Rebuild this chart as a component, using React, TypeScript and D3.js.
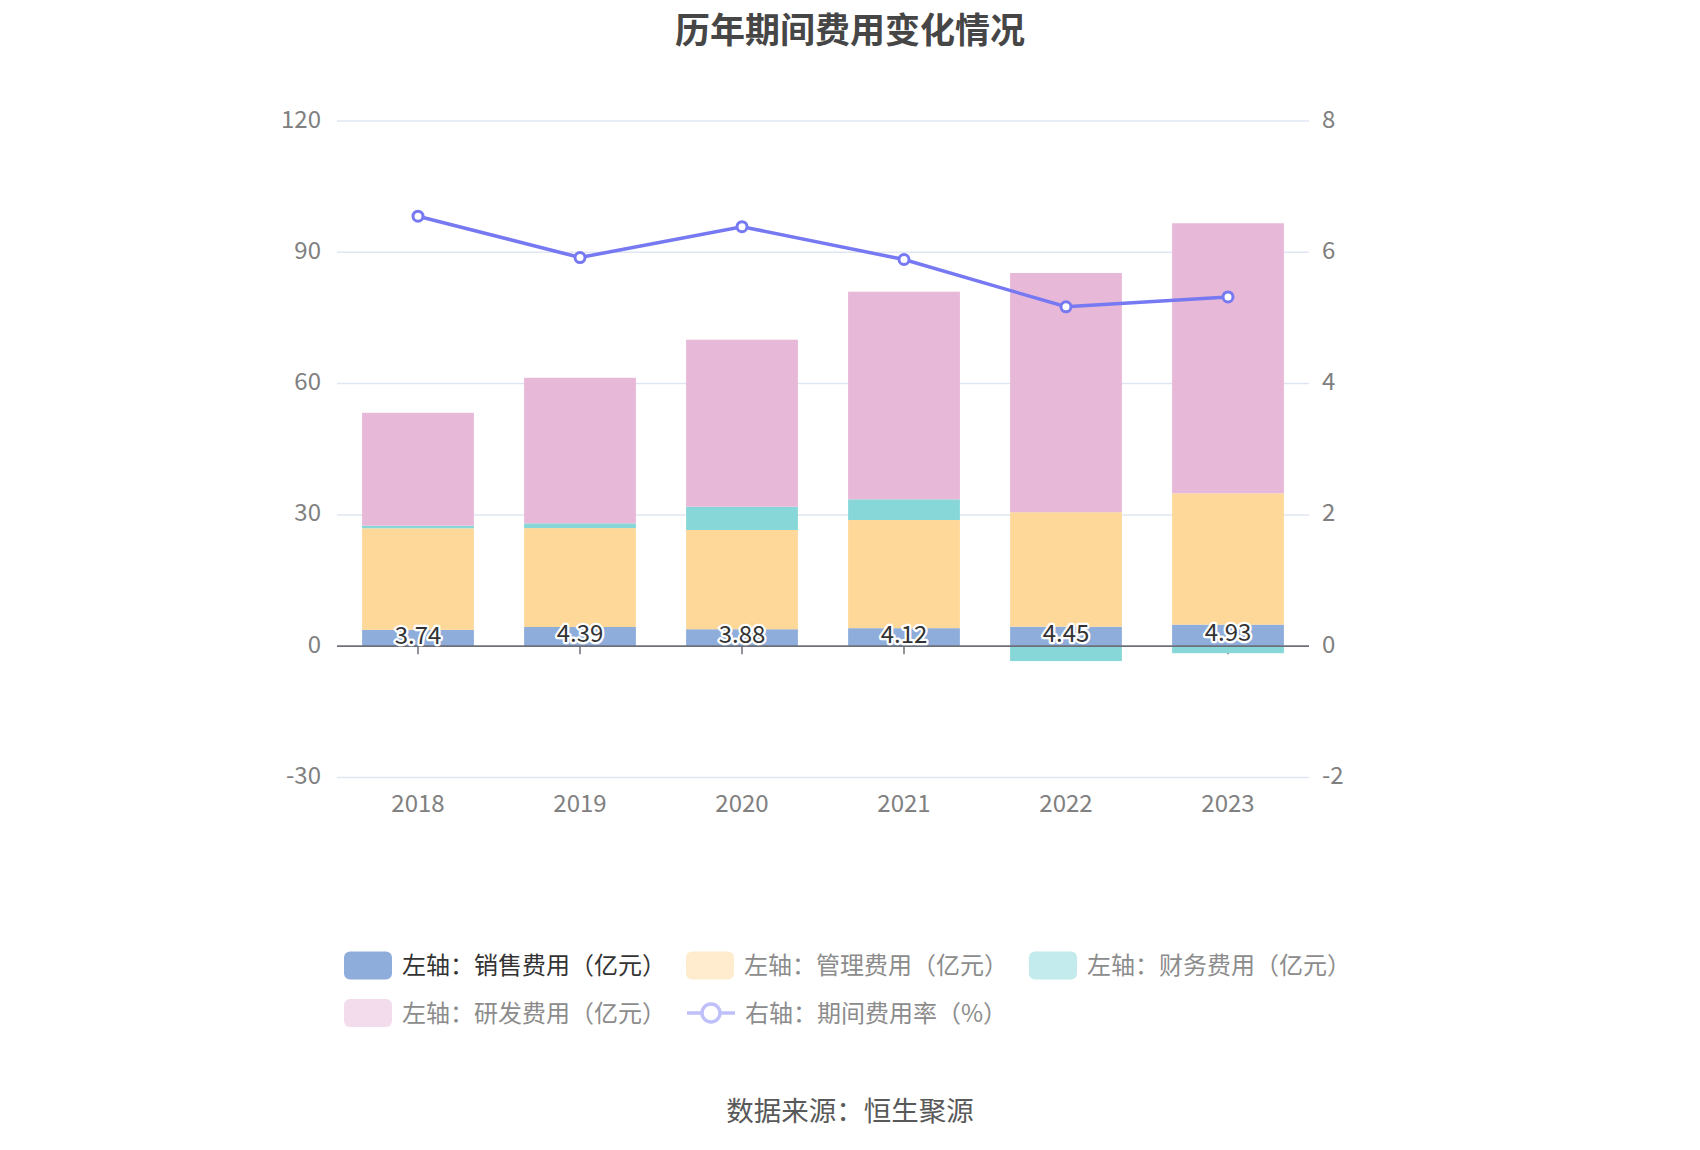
import React from "react";
import * as d3 from "d3";

const years = ["2018", "2019", "2020", "2021", "2022", "2023"];
const sales = [3.74, 4.39, 3.88, 4.12, 4.45, 4.93];
const management = [23.2, 22.6, 22.67, 24.71, 26.15, 30.0];
const finance = [0.59, 1.08, 5.32, 4.73, -3.4, -1.6];
const rnd = [25.8, 33.26, 38.16, 47.44, 54.67, 61.7];
const expenseRate = [6.55, 5.92, 6.39, 5.89, 5.17, 5.32];

const leftTicks = [-30, 0, 30, 60, 90, 120];
const rightTicks = [-2, 0, 2, 4, 6, 8];

const seriesNames = [
  "左轴：销售费用（亿元）",
  "左轴：管理费用（亿元）",
  "左轴：财务费用（亿元）",
  "左轴：研发费用（亿元）",
  "右轴：期间费用率（%）",
];
const barColors = ["#8fadda", "#fed899", "#87d6d8", "#e8b8d8"];
const legendIconColors = ["#8fadda", "#ffecce", "#c3eaec", "#f3dcec", "#bfc0f9"];
const lineColor = "#7679f2";

const FONT = "'Noto Sans CJK SC', 'Noto Sans', sans-serif";

export default function App() {
  const W = 1700;
  const H = 1150;
  const left = 337;
  const right = 1309;
  const top = 121;
  const bottom = 777.5;

  const x = d3.scaleBand<string>().domain(years).range([left, right]).padding(0);
  const yL = d3.scaleLinear().domain([-30, 120]).range([bottom, top]);
  const yR = d3.scaleLinear().domain([-2, 8]).range([bottom, top]);
  const barW = x.step() * 0.69;

  const rows = years.map((y, i) => ({
    year: y,
    sales: sales[i],
    management: management[i],
    finance: finance[i],
    rnd: rnd[i],
  }));
  const keys = ["sales", "management", "finance", "rnd"];
  const stacked = d3
    .stack<any>()
    .keys(keys)
    .offset(d3.stackOffsetDiverging)(rows);

  const cx = (y: string) => (x(y) as number) + x.bandwidth() / 2;

  const line = d3
    .line<number>()
    .x((_, i) => cx(years[i]))
    .y((d) => yR(d));

  const legendPos = [
    { x: 344, y: 963.5 },
    { x: 686, y: 963.5 },
    { x: 1029, y: 963.5 },
    { x: 344, y: 1011 },
    { x: 687, y: 1011 },
  ];

  const labelShift = -4;

  return (
    <svg
      width={W}
      height={H}
      style={{ position: "absolute", left: 0, top: 0, background: "#fff" }}
      fontFamily={FONT}
    >
      <text
        x={850}
        y={27}
        textAnchor="middle"
        dominantBaseline="central"
        fontSize={35}
        fontWeight="bold"
        fill="#464646"
      >
        历年期间费用变化情况
      </text>

      {/* grid */}
      {leftTicks
        .filter((t) => t !== 0)
        .map((t) => (
          <line
            key={t}
            x1={left}
            x2={right}
            y1={yL(t)}
            y2={yL(t)}
            stroke="#e0e6f1"
            strokeWidth={1.5}
          />
        ))}

      {/* left axis labels */}
      {leftTicks.map((t) => (
        <text
          key={t}
          x={left - 16}
          y={yL(t) + labelShift}
          textAnchor="end"
          dominantBaseline="central"
          fontSize={24}
          fill="#808080"
        >
          {t}
        </text>
      ))}
      {/* right axis labels */}
      {rightTicks.map((t) => (
        <text
          key={t}
          x={right + 13}
          y={yR(t) + labelShift}
          textAnchor="start"
          dominantBaseline="central"
          fontSize={24}
          fill="#808080"
        >
          {t}
        </text>
      ))}

      {/* x tick marks */}
      {years.map((y) => (
        <line
          key={y}
          x1={cx(y)}
          x2={cx(y)}
          y1={yL(0)}
          y2={yL(0) + 8}
          stroke="#6e7079"
          strokeWidth={1.5}
        />
      ))}

      {/* bars */}
      {stacked.map((s, si) =>
        s.map((d, i) => {
          const y0 = yL(d[0]);
          const y1 = yL(d[1]);
          return (
            <rect
              key={`${si}-${i}`}
              x={cx(years[i]) - barW / 2}
              y={Math.min(y0, y1)}
              width={barW}
              height={Math.abs(y0 - y1)}
              fill={barColors[si]}
            />
          );
        })
      )}

      {/* zero axis line */}
      <line
        x1={left}
        x2={right}
        y1={yL(0)}
        y2={yL(0)}
        stroke="#6e7079"
        strokeWidth={1.8}
      />

      {/* x labels */}
      {years.map((y) => (
        <text
          key={y}
          x={cx(y)}
          y={801}
          textAnchor="middle"
          dominantBaseline="central"
          fontSize={24}
          fill="#808080"
        >
          {y}
        </text>
      ))}

      {/* sales labels */}
      {stacked[0].map((d, i) => (
        <text
          key={i}
          x={cx(years[i])}
          y={(yL(d[0]) + yL(d[1])) / 2 - 5}
          textAnchor="middle"
          dominantBaseline="central"
          fontSize={24}
          fill="#333"
          stroke="#fff"
          strokeWidth={4.5}
          strokeLinejoin="round"
          paintOrder="stroke"
        >
          {sales[i].toFixed(2)}
        </text>
      ))}

      {/* line */}
      <path d={line(expenseRate) || ""} fill="none" stroke={lineColor} strokeWidth={3.5} />
      {expenseRate.map((v, i) => (
        <circle
          key={i}
          cx={cx(years[i])}
          cy={yR(v)}
          r={5}
          fill="#fff"
          stroke={lineColor}
          strokeWidth={3}
        />
      ))}

      {/* legend */}
      {seriesNames.map((name, i) => {
        const p = legendPos[i];
        const isLine = i === 4;
        return (
          <g key={name}>
            {isLine ? (
              <g>
                <line
                  x1={p.x}
                  x2={p.x + 48}
                  y1={p.y + 2}
                  y2={p.y + 2}
                  stroke={legendIconColors[i]}
                  strokeWidth={3.5}
                />
                <circle
                  cx={p.x + 24}
                  cy={p.y + 2}
                  r={9}
                  fill="#fff"
                  stroke={legendIconColors[i]}
                  strokeWidth={3.5}
                />
              </g>
            ) : (
              <rect
                x={p.x}
                y={p.y - 12}
                width={48}
                height={28}
                rx={6}
                fill={legendIconColors[i]}
              />
            )}
            <text
              x={p.x + 58}
              y={p.y}
              dominantBaseline="central"
              fontSize={24}
              fill={i === 0 ? "#333" : "#8c8c8c"}
            >
              {name}
            </text>
          </g>
        );
      })}

      <text
        x={850}
        y={1109}
        textAnchor="middle"
        dominantBaseline="central"
        fontSize={27.5}
        fill="#595959"
      >
        数据来源：恒生聚源
      </text>
    </svg>
  );
}
